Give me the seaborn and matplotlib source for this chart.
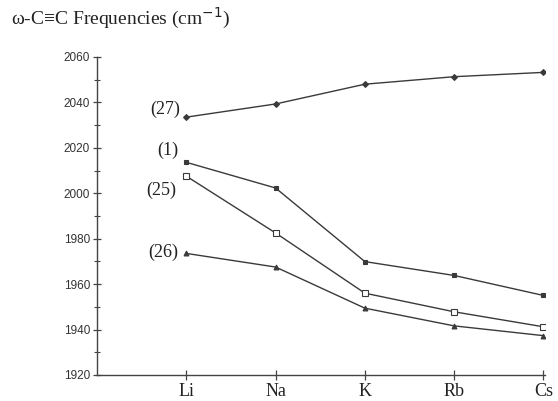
import matplotlib
matplotlib.use("Agg")
import matplotlib.pyplot as plt
import seaborn as sns
import pandas as pd
import numpy as np

categories = ["Li", "Na", "K", "Rb", "Cs"]
s27 = [2033.5, 2039.3, 2048.0, 2051.3, 2053.2]
s1 = [2013.6, 2002.3, 1969.9, 1963.8, 1955.0]
s25 = [2007.5, 1982.5, 1956.0, 1947.8, 1941.2]
s26 = [1973.5, 1967.5, 1949.4, 1941.6, 1937.3]
series_names = ["(27)", "(1)", "(25)", "(26)"]
y_ticks = [1920, 1940, 1960, 1980, 2000, 2020, 2040, 2060]

sns.set_theme(style="white")
plt.rcParams["font.family"] = ["Liberation Serif", "DejaVu Serif"]

fig = plt.figure(figsize=(5.58, 4.01), dpi=100)
ax = fig.add_axes([0.174, 0.065, 0.803, 0.793])

line_color = "#3a3a3a"
styles = [
    dict(marker="D", ms=3, mfc=line_color),
    dict(marker="s", ms=3.5, mfc=line_color),
    dict(marker="s", ms=4, mfc="white"),
    dict(marker="^", ms=3.5, mfc=line_color),
]
offsets = [(-6, 8), (-8, 12), (-10, -14), (-8, 1)]

for name, vals, st, off in zip(series_names, [s27, s1, s25, s26], styles, offsets):
    df = pd.DataFrame({"metal": categories, "freq": vals})
    sns.lineplot(data=df, x="metal", y="freq", ax=ax, color=line_color, lw=1.0,
                 marker=st["marker"], markersize=st["ms"], markerfacecolor=st["mfc"],
                 markeredgecolor=line_color, markeredgewidth=0.8, sort=False)
    ax.annotate(name, xy=(0, vals[0]), xytext=off, textcoords="offset pixels",
                ha="right", va="center", fontsize=13, color="#222222")

ax.set_xlim(-1, 4.02)
ax.set_ylim(1920, 2060)
ax.set_yticks(y_ticks)
ax.set_yticks(np.arange(1930, 2060, 20), minor=True)
ax.set_yticklabels([str(t) for t in y_ticks], family=["Liberation Sans", "DejaVu Sans"],
                   fontsize=8.5, color="#333333")
ax.set_xticks(range(len(categories)))
ax.set_xticklabels(categories, fontsize=13, color="#222222")
ax.set_xlabel("")
ax.set_ylabel("")

for side in ["top", "right"]:
    ax.spines[side].set_visible(False)
for side in ["left", "bottom"]:
    ax.spines[side].set_color("#444444")
    ax.spines[side].set_linewidth(1.0)

ax.tick_params(axis="y", which="major", direction="inout", length=6, width=0.9,
               color="#444444", left=True, pad=2)
ax.tick_params(axis="y", which="minor", direction="inout", length=4, width=0.8,
               color="#444444", left=True)
ax.tick_params(axis="x", which="major", direction="inout", length=7, width=0.9,
               color="#444444", bottom=True, pad=2)

fig.text(0.02, 0.955, "ω-C≡C Frequencies (cm$^{-1}$)", fontsize=14,
         ha="left", va="center", color="#222222")

fig.savefig("out.png", dpi=100, facecolor="white")
